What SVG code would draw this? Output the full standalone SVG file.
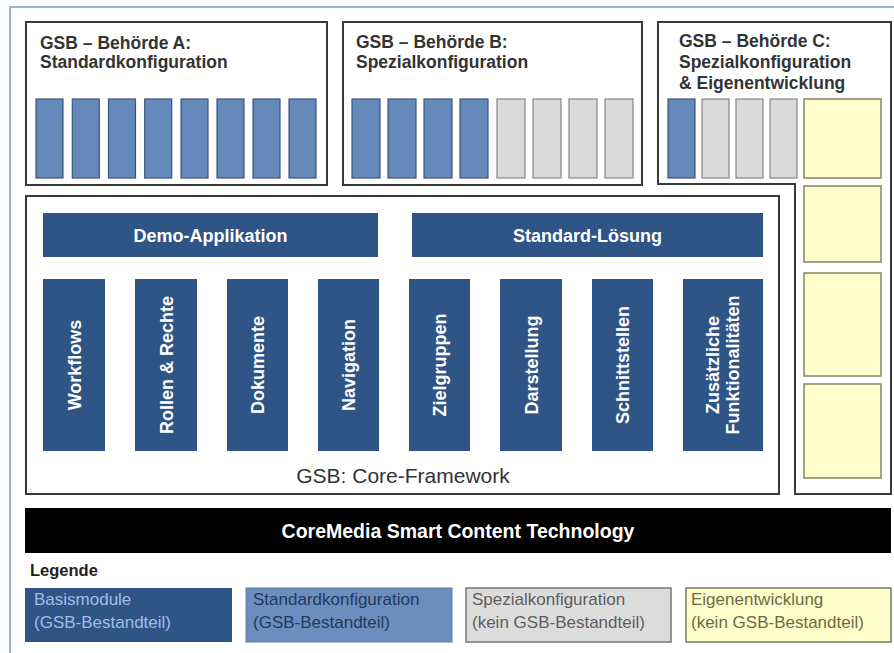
<svg xmlns="http://www.w3.org/2000/svg" width="894" height="653" viewBox="0 0 894 653">
<style>
  .box { fill: #ffffff; stroke: #3a3a3a; stroke-width: 2; }
  .title { font-family: "Liberation Sans", Arial, sans-serif; font-size: 17.5px; font-weight: bold; fill: #333333; }
  .blue { fill: #6589ba; stroke: #3d5576; stroke-width: 1.2; }
  .grey { fill: #dadada; stroke: #858585; stroke-width: 1.2; }
  .yellow { fill: #ffffcc; stroke: #85856a; stroke-width: 1.5; }
  .dark { fill: #2f5587; }
  .wtext { font-family: "Liberation Sans", Arial, sans-serif; font-size: 18px; font-weight: bold; fill: #ffffff; text-anchor: middle; }
  .ltext { font-family: "Liberation Sans", Arial, sans-serif; font-size: 17px; }
</style>
<rect x="0" y="0" width="894" height="653" fill="#ffffff"/>
<rect id="frame" x="10" y="7" width="900" height="700" fill="none" stroke="#a3b3c6" stroke-width="2"/>

<g id="behoerde-a">
  <rect class="box" x="26" y="22" width="301" height="163"/>
  <text class="title" x="40" y="49">GSB – Behörde A:</text>
  <text class="title" x="40" y="68">Standardkonfiguration</text>
  <rect class="blue" x="36" y="99" width="27" height="79"/>
  <rect class="blue" x="72.3" y="99" width="27" height="79"/>
  <rect class="blue" x="108.5" y="99" width="27" height="79"/>
  <rect class="blue" x="144.7" y="99" width="27" height="79"/>
  <rect class="blue" x="181" y="99" width="27" height="79"/>
  <rect class="blue" x="217" y="99" width="27" height="79"/>
  <rect class="blue" x="253" y="99" width="27" height="79"/>
  <rect class="blue" x="289" y="99" width="27" height="79"/>
</g>

<g id="behoerde-b">
  <rect class="box" x="343" y="22" width="299" height="163"/>
  <text class="title" x="356" y="48">GSB – Behörde B:</text>
  <text class="title" x="356" y="68">Spezialkonfiguration</text>
  <rect class="blue" x="352" y="99" width="28" height="79"/>
  <rect class="blue" x="388" y="99" width="28" height="79"/>
  <rect class="blue" x="424" y="99" width="28" height="79"/>
  <rect class="blue" x="460" y="99" width="28" height="79"/>
  <rect class="grey" x="497" y="99" width="28" height="79"/>
  <rect class="grey" x="533" y="99" width="28" height="79"/>
  <rect class="grey" x="569" y="99" width="28" height="79"/>
  <rect class="grey" x="605" y="99" width="28" height="79"/>
</g>

<g id="behoerde-c">
  <path class="box" d="M658,22 H891 V494 H795 V184 H658 Z"/>
  <text class="title" x="679" y="47">GSB – Behörde C:</text>
  <text class="title" x="679" y="68">Spezialkonfiguration</text>
  <text class="title" x="679" y="89">&amp; Eigenentwicklung</text>
  <rect class="blue" x="668" y="99" width="27" height="79"/>
  <rect class="grey" x="702" y="99" width="27" height="79"/>
  <rect class="grey" x="736" y="99" width="27" height="79"/>
  <rect class="grey" x="770" y="99" width="27" height="79"/>
  <rect class="yellow" x="804" y="99" width="77" height="79"/>
  <rect class="yellow" x="804" y="186" width="77" height="76"/>
  <rect class="yellow" x="804" y="273" width="77" height="103"/>
  <rect class="yellow" x="804" y="384" width="77" height="94"/>
</g>

<g id="core-framework">
  <rect class="box" x="26" y="196" width="753" height="298"/>
  <text x="403" y="483" font-family="Liberation Sans, Arial, sans-serif" font-size="21" fill="#333333" text-anchor="middle">GSB: Core-Framework</text>
</g>

<g id="demo-applikation">
  <rect class="dark" x="43" y="213" width="335" height="44"/>
  <text class="wtext" x="210.5" y="242">Demo-Applikation</text>
</g>
<g id="standard-loesung">
  <rect class="dark" x="412" y="213" width="351" height="44"/>
  <text class="wtext" x="587.5" y="242">Standard-Lösung</text>
</g>

<g id="workflows">
  <rect class="dark" x="43" y="279" width="62" height="172"/>
  <text class="wtext" transform="translate(74,365) rotate(-90)" x="0" y="6.5">Workflows</text>
</g>
<g id="rollen-rechte">
  <rect class="dark" x="135" y="279" width="62" height="172"/>
  <text class="wtext" transform="translate(166,365) rotate(-90)" x="0" y="6.5">Rollen &amp; Rechte</text>
</g>
<g id="dokumente">
  <rect class="dark" x="227" y="279" width="61" height="172"/>
  <text class="wtext" transform="translate(257.5,365) rotate(-90)" x="0" y="6.5">Dokumente</text>
</g>
<g id="navigation">
  <rect class="dark" x="318" y="279" width="61" height="172"/>
  <text class="wtext" transform="translate(348.5,365) rotate(-90)" x="0" y="6.5">Navigation</text>
</g>
<g id="zielgruppen">
  <rect class="dark" x="409" y="279" width="61" height="172"/>
  <text class="wtext" transform="translate(439.5,365) rotate(-90)" x="0" y="6.5">Zielgruppen</text>
</g>
<g id="darstellung">
  <rect class="dark" x="500" y="279" width="62" height="172"/>
  <text class="wtext" transform="translate(531,365) rotate(-90)" x="0" y="6.5">Darstellung</text>
</g>
<g id="schnittstellen">
  <rect class="dark" x="592" y="279" width="61" height="172"/>
  <text class="wtext" transform="translate(622.5,365) rotate(-90)" x="0" y="6.5">Schnittstellen</text>
</g>
<g id="zusaetzliche">
  <rect class="dark" x="683" y="279" width="80" height="172"/>
  <text class="wtext" transform="translate(723,365) rotate(-90)" x="0" y="-4">Zusätzliche</text>
  <text class="wtext" transform="translate(723,365) rotate(-90)" x="0" y="16">Funktionalitäten</text>
</g>

<g id="coremedia">
  <rect x="25" y="508" width="866" height="45" fill="#000000"/>
  <text x="458" y="538" font-family="Liberation Sans, Arial, sans-serif" font-size="19.5" font-weight="bold" fill="#ffffff" text-anchor="middle">CoreMedia Smart Content Technology</text>
</g>

<g id="legende">
  <text x="30" y="576" font-family="Liberation Sans, Arial, sans-serif" font-size="16.5" font-weight="bold" fill="#222222">Legende</text>
  <g id="legend-basis">
    <rect x="25" y="588" width="207" height="54" fill="#2f5587"/>
    <text class="ltext" x="34" y="605" fill="#a3bce3">Basismodule</text>
    <text class="ltext" x="34" y="628" fill="#a3bce3">(GSB-Bestandteil)</text>
  </g>
  <g id="legend-standard">
    <rect x="246" y="588" width="206" height="54" fill="#6b8ebe" stroke="#5a7aa6" stroke-width="1"/>
    <text class="ltext" x="253" y="605" fill="#24395a">Standardkonfiguration</text>
    <text class="ltext" x="253" y="628" fill="#24395a">(GSB-Bestandteil)</text>
  </g>
  <g id="legend-spezial">
    <rect x="466" y="588" width="205" height="54" fill="#dcdcdc" stroke="#777777" stroke-width="1.5"/>
    <text class="ltext" x="472" y="605" fill="#5e5e5e">Spezialkonfiguration</text>
    <text class="ltext" x="472" y="628" fill="#5e5e5e">(kein GSB-Bestandteil)</text>
  </g>
  <g id="legend-eigen">
    <rect x="686" y="588" width="205" height="54" fill="#ffffcc" stroke="#7a7a60" stroke-width="1.5"/>
    <text class="ltext" x="691" y="605" fill="#6b6b45">Eigenentwicklung</text>
    <text class="ltext" x="691" y="628" fill="#6b6b45">(kein GSB-Bestandteil)</text>
  </g>
</g>
</svg>
